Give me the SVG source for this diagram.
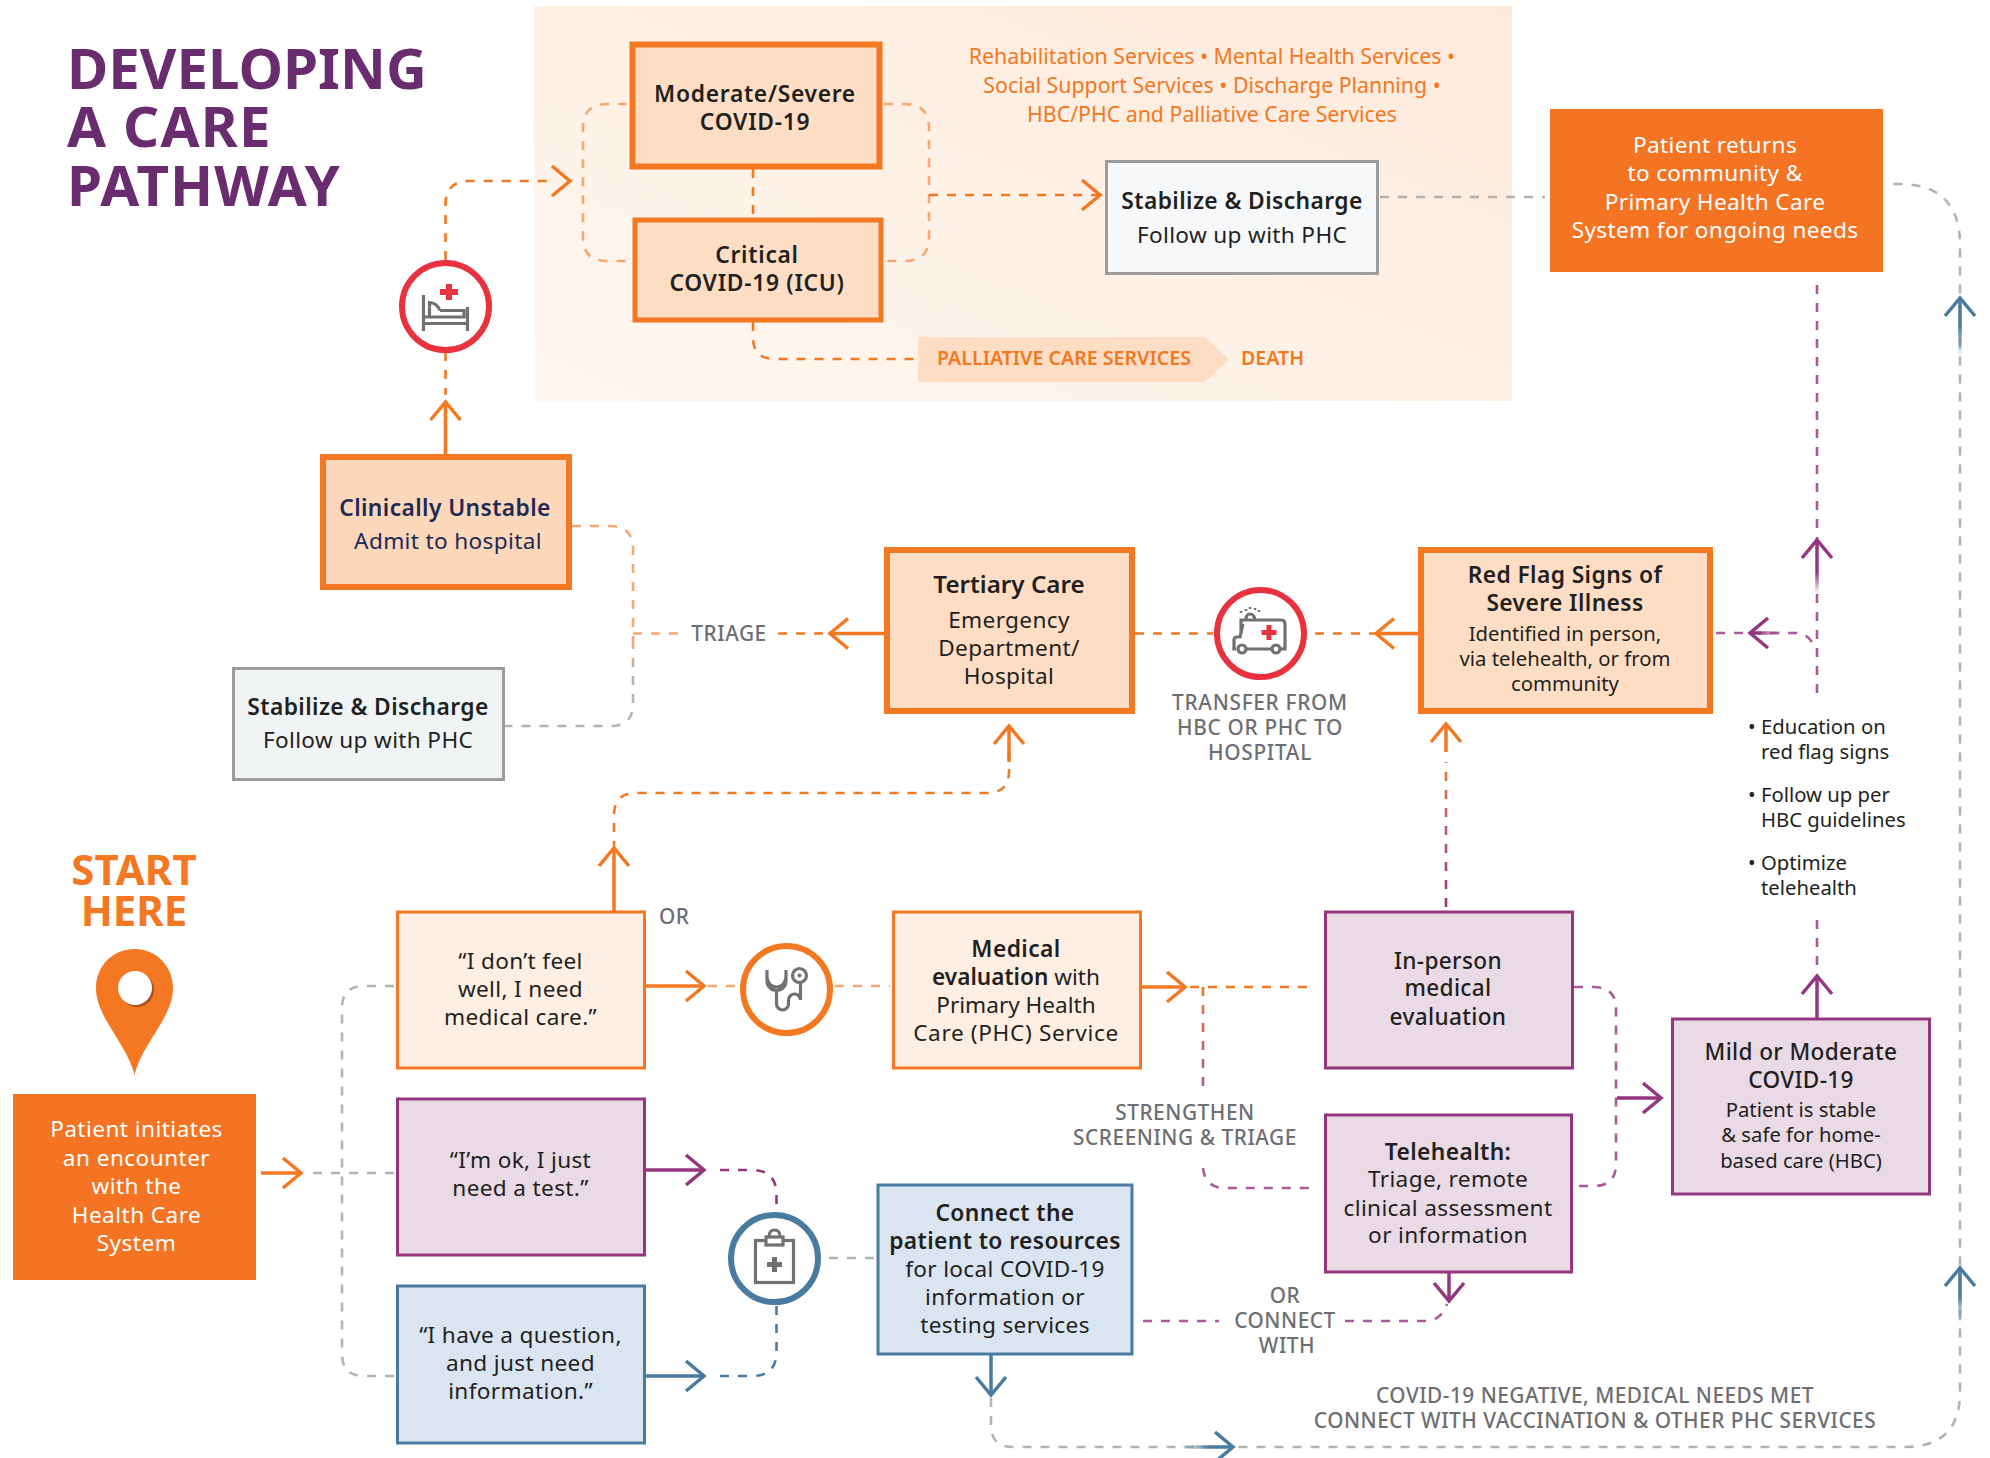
<svg xmlns="http://www.w3.org/2000/svg" width="1990" height="1458" viewBox="0 0 1990 1458">
<style>
text{font-family:"Noto Sans","Open Sans","Liberation Sans",sans-serif;text-anchor:middle;font-size:22.6px;letter-spacing:.35px;fill:#231F20}
.b{font-weight:700;letter-spacing:0}
.s{font-weight:600;font-size:22.8px;letter-spacing:.4px}
.sm{font-size:21.3px;letter-spacing:0}
.x{font-size:20.3px;letter-spacing:0}
.g{fill:#6D6E71;font-size:20.8px;font-weight:500;letter-spacing:.55px}
.w{fill:#fff}
.o{fill:#F47721}
.l{text-anchor:start}
.n{fill:#1C2A56}
.t{font-size:56.4px;fill:#692C6E}
.p{font-size:19.6px;letter-spacing:0}
.h{font-size:42px}
.box{stroke-width:3}
.hv{stroke-width:6}
.or{fill:#FDDEC5;stroke:#F47721}
.pu{fill:#E9DAE5;stroke:#93367F}
.bl{fill:#DAE5F1;stroke:#497BA0}
.cr{fill:#FEEFE2;stroke:#F47721}
.st{stroke:#9A9C9E}
.c{fill:#fff;stroke-width:6}
.ic{fill:none;stroke:#717174;stroke-width:3.2}
path.d,line.d{fill:none;stroke-width:2.6;stroke-dasharray:9 9}
path.a,line.a{fill:none;stroke-width:3.5}
.co{stroke:#F47721}.cl{stroke:#F9A673}.cp{stroke:#93367F}.cq{stroke:#A85A99}.cb{stroke:#497BA0}.cg{stroke:#B1B3B5}
</style>
<defs>
<linearGradient id="panel" x1="0" y1="1" x2="1" y2="0"><stop offset="0" stop-color="#FEF7F0"/><stop offset="1" stop-color="#FDEADB"/></linearGradient>
<linearGradient id="g-inperson" gradientUnits="userSpaceOnUse" x1="0" y1="907" x2="0" y2="760"><stop offset="0" stop-color="#93367F"/><stop offset="0.6" stop-color="#C2607A"/><stop offset="1" stop-color="#F47721"/></linearGradient>
<linearGradient id="g-triage" gradientUnits="userSpaceOnUse" x1="0" y1="630" x2="0" y2="680"><stop offset="0" stop-color="#F9A673"/><stop offset="1" stop-color="#B1B3B5"/></linearGradient>
<linearGradient id="g-strength" gradientUnits="userSpaceOnUse" x1="0" y1="987" x2="0" y2="1087"><stop offset="0" stop-color="#F47721"/><stop offset="1" stop-color="#A85A99"/></linearGradient>
<linearGradient id="f-blue1" gradientUnits="userSpaceOnUse" x1="0" y1="298" x2="0" y2="357"><stop offset="0.5" stop-color="#497BA0"/><stop offset="1" stop-color="#497BA0" stop-opacity="0"/></linearGradient>
<linearGradient id="f-blue2" gradientUnits="userSpaceOnUse" x1="0" y1="1268" x2="0" y2="1323"><stop offset="0.5" stop-color="#497BA0"/><stop offset="1" stop-color="#497BA0" stop-opacity="0"/></linearGradient>
<linearGradient id="f-blue3" gradientUnits="userSpaceOnUse" x1="1233" y1="0" x2="1180" y2="0"><stop offset="0.4" stop-color="#497BA0"/><stop offset="1" stop-color="#497BA0" stop-opacity="0"/></linearGradient>
<linearGradient id="f-pur1" gradientUnits="userSpaceOnUse" x1="0" y1="540" x2="0" y2="594"><stop offset="0.6" stop-color="#93367F"/><stop offset="1" stop-color="#93367F" stop-opacity="0"/></linearGradient>
<linearGradient id="f-pur2" gradientUnits="userSpaceOnUse" x1="1750" y1="0" x2="1782" y2="0"><stop offset="0.3" stop-color="#93367F"/><stop offset="1" stop-color="#93367F" stop-opacity="0"/></linearGradient>
<marker id="mo" markerUnits="userSpaceOnUse" markerWidth="30" markerHeight="40" refX="24" refY="20" orient="auto" overflow="visible"><path d="M6 5 L24 20 L6 35" fill="none" stroke="#F47721" stroke-width="3.5"/></marker>
<marker id="mp" markerUnits="userSpaceOnUse" markerWidth="30" markerHeight="40" refX="24" refY="20" orient="auto" overflow="visible"><path d="M6 5 L24 20 L6 35" fill="none" stroke="#93367F" stroke-width="3.5"/></marker>
<marker id="mb" markerUnits="userSpaceOnUse" markerWidth="30" markerHeight="40" refX="24" refY="20" orient="auto" overflow="visible"><path d="M6 5 L24 20 L6 35" fill="none" stroke="#497BA0" stroke-width="3.5"/></marker>
</defs>
<rect width="1990" height="1458" fill="#fff"/>
<rect id="panel-bg" x="534" y="6" width="978" height="395" fill="url(#panel)"/>
<g id="connectors">
<path class="d cl" d="M627 104H607Q583 104 583 128V237Q583 261 607 261H627"/>
<path class="d cl" d="M884 104H905Q929 104 929 128V237Q929 261 905 261H884"/>
<line class="d co" x1="753" y1="169" x2="753" y2="218"/>
<path class="d co" d="M929 195H1098"/>
<path stroke="none" fill="none" d="M1098 195H1100" marker-end="url(#mo)"/>
<path class="d cg" d="M1380 197H1545"/>
<path class="d co" d="M753 322V337Q753 359 775 359H915"/>
<path class="d co" d="M445.5 260V205Q445.5 181 469 181H555"/>
<path stroke="none" fill="none" d="M558 181H570" marker-end="url(#mo)"/>
<path class="d co" d="M445.5 352V395"/>
<path class="a co" d="M445.5 454V402" marker-end="url(#mo)"/>
<path class="d cl" d="M572 526H610Q633 526 633 549V640"/>
<path d="M633 640V704Q633 726 611 726H505" fill="none" stroke="url(#g-triage)" stroke-width="2.6" stroke-dasharray="9 9"/>
<line class="d cl" x1="633" y1="633.5" x2="678" y2="633.5"/>
<line class="d co" x1="778" y1="633.5" x2="830" y2="633.5"/>
<path class="a co" d="M884 633.5H830" marker-end="url(#mo)" stroke-width="4"/>
<line class="d co" x1="1135" y1="633.5" x2="1213" y2="633.5"/>
<line class="d co" x1="1315" y1="633.5" x2="1376" y2="633.5"/>
<path class="a co" d="M1418 633.5H1376" marker-end="url(#mo)" stroke-width="4"/>
<path d="M1446 907V762" fill="none" stroke="url(#g-inperson)" stroke-width="2.6" stroke-dasharray="9 9"/>
<path class="a co" d="M1446 752V724" marker-end="url(#mo)"/>
<path class="a co" d="M614 911V848" marker-end="url(#mo)"/>
<path class="d co" d="M614 850V815Q614 793 636 793H987Q1009 793 1009 771V745"/>
<path class="a co" d="M1009 762V726" marker-end="url(#mo)"/>
<line class="d cq" x1="1817" y1="285" x2="1817" y2="540"/>
<line class="d cq" x1="1817" y1="594" x2="1817" y2="695"/>
<path d="M1817 594V540" fill="none" stroke="url(#f-pur1)" stroke-width="3.5"/>
<path fill="none" stroke="none" d="M1817 546V540" marker-end="url(#mp)"/>
<path class="d cq" d="M1812 642Q1806 633 1795 633H1715"/>
<path d="M1782 633H1750" fill="none" stroke="url(#f-pur2)" stroke-width="3.5"/>
<path fill="none" stroke="none" d="M1756 633H1750" marker-end="url(#mp)"/>
<line class="d cq" x1="1817" y1="920" x2="1817" y2="970"/>
<path class="a cp" d="M1817 1018V976" marker-end="url(#mp)" stroke-width="4"/>
<path class="d cq" d="M1574 987H1594Q1616 987 1616 1009V1164Q1616 1186 1594 1186H1577"/>
<path class="a cp" d="M1617 1098H1661" marker-end="url(#mp)" stroke-width="4"/>
<path class="a co" d="M1141 987H1185" marker-end="url(#mo)" stroke-width="4"/>
<path class="d co" d="M1190 987H1311"/>
<path d="M1203 987V1087" fill="none" stroke="url(#g-strength)" stroke-width="2.6" stroke-dasharray="9 9"/>
<path class="d cq" d="M1203 1168Q1205 1188 1225 1188H1312"/>
<path class="a cp" d="M1449 1273V1301" marker-end="url(#mp)"/>
<path class="d cq" d="M1143 1321H1219"/>
<path class="d cq" d="M1345 1321H1425Q1441 1321 1447 1304"/>
<path class="a co" d="M261 1173H301" marker-end="url(#mo)"/>
<path class="d cg" d="M313 1173H394"/>
<path class="d cg" d="M394 986H364Q342 986 342 1008V1354Q342 1376 364 1376H394"/>
<path class="a co" d="M646 986H704" marker-end="url(#mo)" stroke-width="4"/>
<line class="d cl" x1="708" y1="986" x2="740" y2="986"/>
<line class="d cl" x1="835" y1="986" x2="890" y2="986"/>
<path class="a cp" d="M646 1170H704" marker-end="url(#mp)" stroke-width="4"/>
<path class="d cp" d="M720 1170H752Q776 1170 776.5 1194V1208"/>
<path class="a cb" d="M646 1376H704" marker-end="url(#mb)" stroke-width="4"/>
<path class="d cb" d="M720 1376H752Q776.5 1376 776.5 1352V1305"/>
<line class="d cg" x1="829" y1="1258" x2="875" y2="1258"/>
<path class="a cb" d="M991 1355V1395" marker-end="url(#mb)"/>
<path class="d cg" d="M991 1398V1425Q991 1447 1013 1447H1905Q1960 1447 1960 1392V245Q1960 184 1899 184H1892"/>
<path d="M1180 1447H1233" fill="none" stroke="url(#f-blue3)" stroke-width="3.5"/>
<path fill="none" stroke="none" d="M1227 1447H1233" marker-end="url(#mb)"/>
<path d="M1960 1323V1268" fill="none" stroke="url(#f-blue2)" stroke-width="3.5"/>
<path fill="none" stroke="none" d="M1960 1274V1268" marker-end="url(#mb)"/>
<path d="M1960 357V298" fill="none" stroke="url(#f-blue1)" stroke-width="3.5"/>
<path fill="none" stroke="none" d="M1960 304V298" marker-end="url(#mb)"/>
</g>
<g id="title"><text class="l b t"><tspan x="67" y="89">DEVELOPING</tspan><tspan x="67" y="147" letter-spacing="1.2">A CARE</tspan><tspan x="67" y="206" letter-spacing="1.1">PATHWAY</tspan></text></g>
<g id="node-moderate"><rect class="or hv" x="632.5" y="44.5" width="247" height="122"/><text class="s" style="letter-spacing:.7px"><tspan x="755" y="102">Moderate/Severe</tspan><tspan x="755" y="130">COVID-19</tspan></text></g>
<g id="node-critical"><rect class="or" stroke-width="5" x="635" y="220" width="246" height="100"/><text class="s" style="letter-spacing:.7px"><tspan x="757" y="262.5">Critical</tspan><tspan x="757" y="291">COVID-19 (ICU)</tspan></text></g>
<g id="services"><text class="o sm"><tspan x="1212" y="64">Rehabilitation Services • Mental Health Services •</tspan><tspan x="1212" y="93">Social Support Services • Discharge Planning •</tspan><tspan x="1212" y="122">HBC/PHC and Palliative Care Services</tspan></text></g>
<g id="node-stabilize-top"><rect class="st" fill="#F6F8FA" stroke-width="3" x="1106.5" y="161.5" width="271" height="112"/><text class="s" x="1242" y="209">Stabilize &amp; Discharge</text><text x="1242" y="243">Follow up with PHC</text></g>
<g id="node-palliative"><polygon points="918,337 1205,337 1229,359.5 1205,382 918,382" fill="#FDDEC5"/><text class="o s p" style="font-size:19.6px;letter-spacing:0" x="1064" y="365">PALLIATIVE CARE SERVICES</text><text class="o s l p" style="font-size:19.6px;letter-spacing:0" x="1241" y="365">DEATH</text></g>
<g id="node-returns"><rect x="1550" y="109" width="333" height="163" fill="#F47423"/><text class="w"><tspan x="1715" y="153">Patient returns</tspan><tspan x="1715" y="181">to community &amp;</tspan><tspan x="1715" y="209.5">Primary Health Care</tspan><tspan x="1715" y="237.5">System for ongoing needs</tspan></text></g>
<g id="node-hospital"><circle class="c" stroke="#E8323E" cx="445.5" cy="306.5" r="43.5"/><path class="ic" d="M423.5 295V331M467.5 307V331M423 323.5H468M423 317H464V310.5H440M429.5 316V302.5Q437 303 440 310.5"/><path d="M446 284h6v5h6v6h-6v5h-6v-5h-6v-6h6z" fill="#E8323E"/></g>
<g id="node-unstable"><rect class="or hv" style="fill:#FDD7B9" x="323" y="457" width="246" height="130"/><text class="s n" x="445" y="516">Clinically Unstable</text><text class="n" x="448" y="549">Admit to hospital</text></g>
<g id="node-stabilize-left"><rect class="st" fill="#F1F4F5" stroke-width="3" x="233.5" y="668.5" width="270" height="111"/><text class="s" x="368" y="715">Stabilize &amp; Discharge</text><text x="368" y="748">Follow up with PHC</text></g>
<text class="g" x="729" y="641">TRIAGE</text>
<g id="node-tertiary"><rect class="or hv" x="887" y="550" width="245" height="161"/><text class="s" style="font-size:24.2px;letter-spacing:0" x="1009" y="593">Tertiary Care</text><text><tspan x="1009" y="628">Emergency</tspan><tspan x="1009" y="656">Department/</tspan><tspan x="1009" y="684">Hospital</tspan></text></g>
<g id="node-ambulance"><circle class="c" stroke="#E8323E" cx="1260.5" cy="633.5" r="43.5"/><path class="ic" d="M1241 634V620H1281Q1285 620 1285 624V649H1281M1271 649H1247M1236 649H1234V640Q1234 637 1237 637H1240L1243 624M1246 620Q1246 614 1250 614Q1254 614 1255 620"/><circle class="ic" cx="1242" cy="649" r="4"/><circle class="ic" cx="1276" cy="649" r="4"/><path d="M1241 613v-2M1246 611v-2M1250 609v-2M1255 610v-2M1259 612v-2" stroke="#717174" stroke-width="2.5" fill="none"/><path d="M1266.5 625h5v5h5v5h-5v5h-5v-5h-5v-5h5z" fill="#E8323E"/></g>
<g id="transfer"><text class="g" style="letter-spacing:.7px"><tspan x="1260" y="710">TRANSFER FROM</tspan><tspan x="1260" y="735">HBC OR PHC TO</tspan><tspan x="1260" y="760">HOSPITAL</tspan></text></g>
<g id="node-redflag"><rect class="or hv" x="1421" y="550" width="289" height="161"/><text class="s"><tspan x="1565" y="582.5">Red Flag Signs of</tspan><tspan x="1565" y="611">Severe Illness</tspan></text><text class="x"><tspan x="1565" y="641">Identified in person,</tspan><tspan x="1565" y="666">via telehealth, or from</tspan><tspan x="1565" y="691">community</tspan></text></g>
<g id="bullets"><text class="l x"><tspan x="1748" y="734">• Education on</tspan><tspan x="1761" y="759">red flag signs</tspan><tspan x="1748" y="802">• Follow up per</tspan><tspan x="1761" y="827">HBC guidelines</tspan><tspan x="1748" y="870">• Optimize</tspan><tspan x="1761" y="895">telehealth</tspan></text></g>
<g id="start"><text class="o b h"><tspan x="134" y="885">START</tspan><tspan x="134" y="926">HERE</tspan></text><path d="M134.5 1075C128 1045 96 1018 96 988C96 966 113 949 134.5 949C156 949 173 966 173 988C173 1018 141 1045 134.5 1075Z" fill="#F47721"/><circle cx="137" cy="990" r="17" fill="#A8531B"/><circle cx="135" cy="988" r="17" fill="#fff"/></g>
<g id="node-patient"><rect x="13" y="1094" width="243" height="186" fill="#F47423"/><text class="w" style="letter-spacing:.45px"><tspan x="136.5" y="1137">Patient initiates</tspan><tspan x="136.5" y="1165.5">an encounter</tspan><tspan x="136.5" y="1194">with the</tspan><tspan x="136.5" y="1222.5">Health Care</tspan><tspan x="136.5" y="1251">System</tspan></text></g>
<g id="node-unwell"><rect class="cr box" x="397.5" y="912" width="247" height="156"/><text><tspan x="520.5" y="969">“I don’t feel</tspan><tspan x="520.5" y="997">well, I need</tspan><tspan x="520.5" y="1025">medical care.”</tspan></text></g>
<text class="g l" x="659" y="924">OR</text>
<g id="node-test"><rect class="pu box" x="397.5" y="1099" width="247" height="156"/><text><tspan x="520.5" y="1168">“I’m ok, I just</tspan><tspan x="520.5" y="1196">need a test.”</tspan></text></g>
<g id="node-question"><rect class="bl box" x="397.5" y="1286" width="247" height="157"/><text><tspan x="520.5" y="1343">“I have a question,</tspan><tspan x="520.5" y="1371">and just need</tspan><tspan x="520.5" y="1398.5">information.”</tspan></text></g>
<g id="node-stethoscope"><circle class="c" stroke="#F47721" cx="786.5" cy="989.5" r="43.5"/><path class="ic" d="M767 970V981A9.5 9.5 0 0 0 786 981V970M767 974V977Q768 987 776.5 987Q785 987 786 977M776.5 990V1004A6 6 0 0 0 788.5 1004V1000A6 6 0 0 1 800.5 1000V983"/><circle class="ic" cx="799.5" cy="975.5" r="7"/><circle cx="799.5" cy="975.5" r="2" fill="#717174"/></g>
<g id="node-medical"><rect class="cr box" x="893.5" y="912" width="247" height="156"/><text style="letter-spacing:0"><tspan class="s" style="letter-spacing:.4px" x="1016" y="956.5">Medical</tspan><tspan x="1016" y="985"><tspan class="s" style="font-size:22.6px;letter-spacing:0">evaluation</tspan> with</tspan><tspan x="1016" y="1013">Primary Health</tspan><tspan x="1016" y="1041" style="letter-spacing:.65px">Care (PHC) Service</tspan></text></g>
<g id="node-inperson"><rect class="pu box" x="1325.5" y="912" width="247" height="156"/><text font-weight="500"><tspan x="1448" y="969">In-person</tspan><tspan x="1448" y="996">medical</tspan><tspan x="1448" y="1025">evaluation</tspan></text></g>
<g id="node-telehealth"><rect class="pu box" x="1325.5" y="1115" width="246" height="157"/><text><tspan class="s" x="1448" y="1160">Telehealth:</tspan><tspan x="1448" y="1187">Triage, remote</tspan><tspan x="1448" y="1215.5">clinical assessment</tspan><tspan x="1448" y="1243">or information</tspan></text></g>
<g id="node-mild"><rect class="pu box" x="1672.5" y="1019" width="257" height="175"/><text font-weight="500"><tspan x="1801" y="1059.5">Mild or Moderate</tspan><tspan x="1801" y="1087.5">COVID-19</tspan></text><text class="x"><tspan x="1801" y="1117">Patient is stable</tspan><tspan x="1801" y="1142">&amp; safe for home-</tspan><tspan x="1801" y="1168">based care (HBC)</tspan></text></g>
<g id="strengthen"><text class="g"><tspan x="1185" y="1119.5">STRENGTHEN</tspan><tspan x="1185" y="1144.5">SCREENING &amp; TRIAGE</tspan></text></g>
<g id="node-clipboard"><circle class="c" stroke="#497BA0" cx="774.5" cy="1258.5" r="43.5"/><rect class="ic" x="755.5" y="1240.5" width="38" height="42"/><rect class="ic" x="766" y="1237" width="17" height="8" style="fill:#fff"/><path class="ic" d="M769 1237Q769 1230 774.5 1230Q780 1230 780 1237"/><path d="M772 1257h5v5h5v5h-5v5h-5v-5h-5v-5h5z" fill="#717174"/></g>
<g id="node-connect"><rect class="bl box" x="878" y="1185" width="254" height="169"/><text><tspan class="s" x="1005" y="1220.5">Connect the</tspan><tspan class="s" x="1005" y="1248.5">patient to resources</tspan><tspan x="1005" y="1276.5">for local COVID-19</tspan><tspan x="1005" y="1304.5">information or</tspan><tspan x="1005" y="1332.5">testing services</tspan></text></g>
<g id="connect-label"><text class="g"><tspan x="1285" y="1302.5">OR</tspan><tspan x="1285" y="1327.5">CONNECT</tspan><tspan x="1287" y="1352.5">WITH</tspan></text></g>
<g id="negative-label"><text class="g" style="letter-spacing:.5px"><tspan x="1595" y="1403">COVID-19 NEGATIVE, MEDICAL NEEDS MET</tspan><tspan x="1595" y="1428">CONNECT WITH VACCINATION &amp; OTHER PHC SERVICES</tspan></text></g>
</svg>
